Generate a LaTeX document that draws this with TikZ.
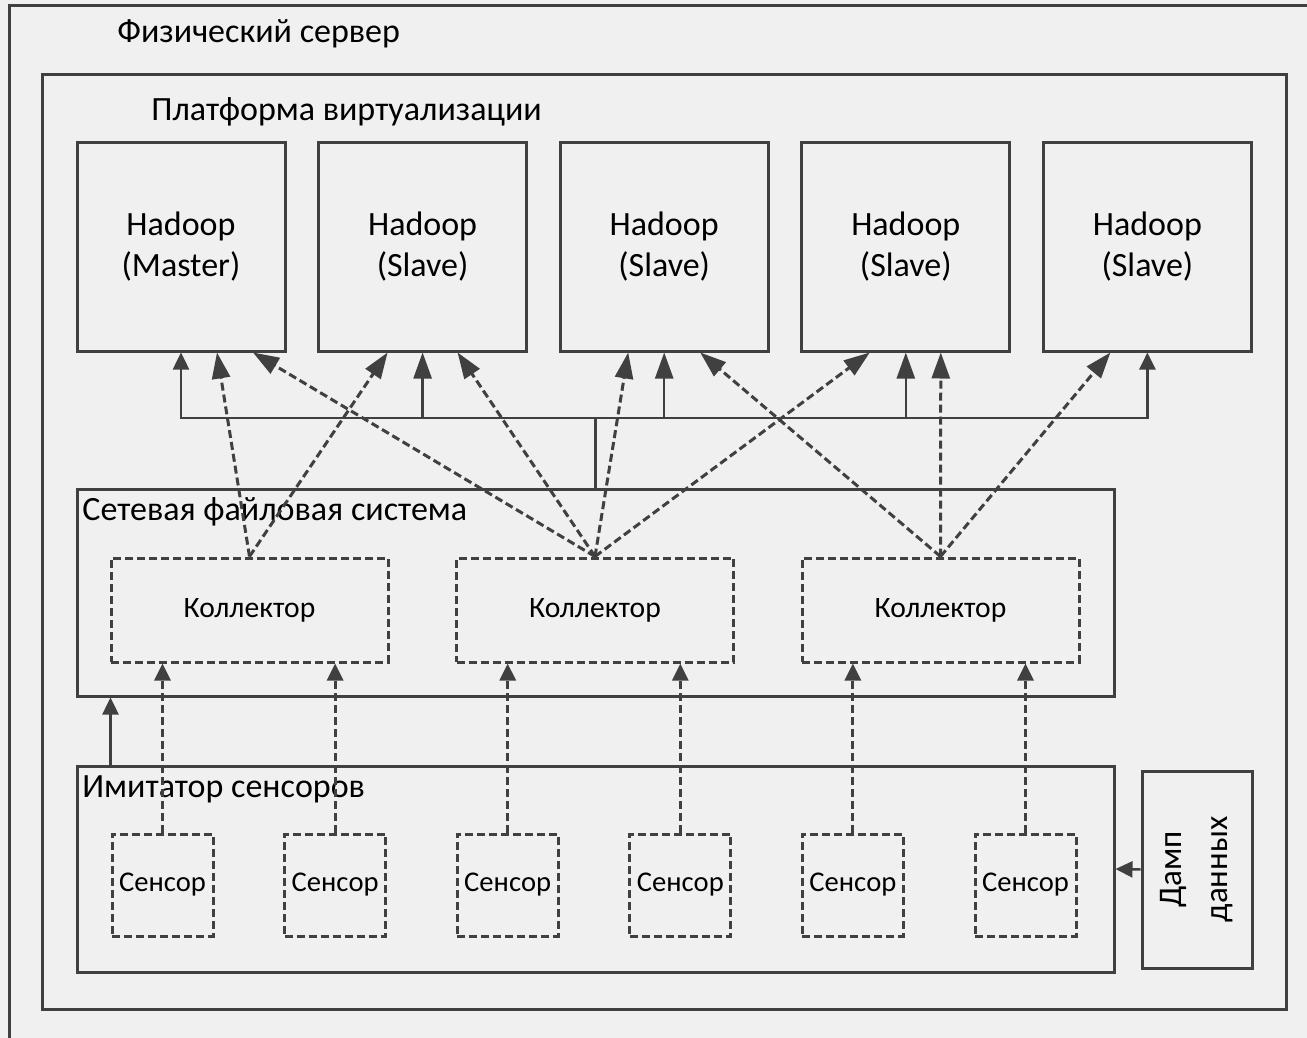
\documentclass[tikz,border=0pt]{standalone}
\usepackage{fontspec}
\setmainfont{Carlito}
\usetikzlibrary{arrows.meta,positioning,calc}

\definecolor{linegray}{RGB}{64,64,64}
\definecolor{bggray}{RGB}{240,240,240}

\tikzset{
	frame/.style={draw=linegray,line width=1.5pt},
	dashframe/.style={draw=linegray,line width=1.5pt,dash pattern=on 4pt off 2pt},
	vm/.style={frame,minimum width=104pt,minimum height=104pt,align=center,font=\fontsize{17}{20.5}\selectfont},
	coll/.style={dashframe,minimum width=138.5pt,minimum height=52pt,font=\fontsize{14.8}{17}\selectfont},
	sens/.style={dashframe,minimum width=50.5pt,minimum height=51pt,inner sep=0pt,font=\fontsize{14.3}{16}\selectfont},
	title/.style={anchor=base west,inner sep=0pt,font=\fontsize{17}{20}\selectfont},
	flow/.style={draw=linegray,line width=1.25pt},
	dflow/.style={draw=linegray,line width=1.5pt,dash pattern=on 4pt off 2pt},
	bigtip/.style={>={Triangle[length=13pt,width=9pt]}},
	smalltip/.style={>={Triangle[length=8.5pt,width=8pt]}}
}

\begin{document}
\begin{tikzpicture}[x=0.5pt,y=-0.5pt,bigtip]
									\useasboundingbox[fill=bggray] (0,0) rectangle (1307,1038);
									\clip (0,0) rectangle (1307,1038);

									\draw[frame] (9,6) rectangle (1330,1060);
									\node[title] (srv) at (117,43) {Физический сервер};

									\draw[frame] (42,75) rectangle (1286,1009);
									\node[title] (plat) at (151,121) {Платформа виртуализации};

									\foreach \t [count=\n] in
									{Master,Slave,Slave,Slave,Slave}
										\node[vm,xshift=(\n-1)*120.8pt] (H\n) at (181,247) {Hadoop\\(\t)};

									\node[frame,minimum width=518.5pt,minimum height=103.5pt] (nfs) at (595.5,592.5) {};
									\node[title] (nfsl) at (82,520) {Сетевая файловая система};

									\foreach \n in {1,2,3}
										\node[coll,xshift=(\n-1)*172.75pt] (K\n) at (249.5,610) {Коллектор};

									\node[frame,minimum width=518.5pt,minimum height=103pt] (sim) at (595.5,869) {};
									\node[title] (siml) at (82,797) {Имитатор сенсоров};

									\foreach \n in {1,...,6}
										\node[sens,xshift=(\n-1)*86.3pt] (S\n) at (162.5,885) {Сенсор};

									\node[frame,minimum width=55pt,minimum height=98.5pt] (D) at (1197,869.5) {};
									\node[rotate=90,align=center,font=\fontsize{16.5}{23}\selectfont] (Dl) at (D.center) {Дамп\\данных};

									\coordinate (bus) at (595.5,418);

									\draw[flow] (nfs.north) -- (bus);
									\draw[flow,<->,smalltip]
										(H1.south) -- (H1.south |- bus) -- (H5.south |- bus) -- (H5.south);
									\foreach \n in {2,3,4}
										\draw[flow,->] (H\n.south |- bus) -- (H\n.south);

									\foreach \k/\h/\o in {1/1/36,1/2/-35,2/1/72,2/2/35,2/3/-36,2/4/-36,3/3/36,3/4/35,3/5/-37}
										\draw[dflow,->] (K\k.north) -- ($(H\h.south)+(\o,0)$);

									\foreach \i in {1,...,6}
									{
										\pgfmathtruncatemacro{\TempVar}{(\i+1)/2}
										\draw[dflow,->,smalltip]
											(S\i.north) -- (S\i.north |- K\TempVar.south);
									}

									\draw[flow,->,smalltip]
										($(sim.north west)+(35,0)$) -- ($(nfs.south west)+(35,0)$);
									\draw[flow,->,smalltip] (D.west) -- (sim.east);
								\end{tikzpicture}
\end{document}
